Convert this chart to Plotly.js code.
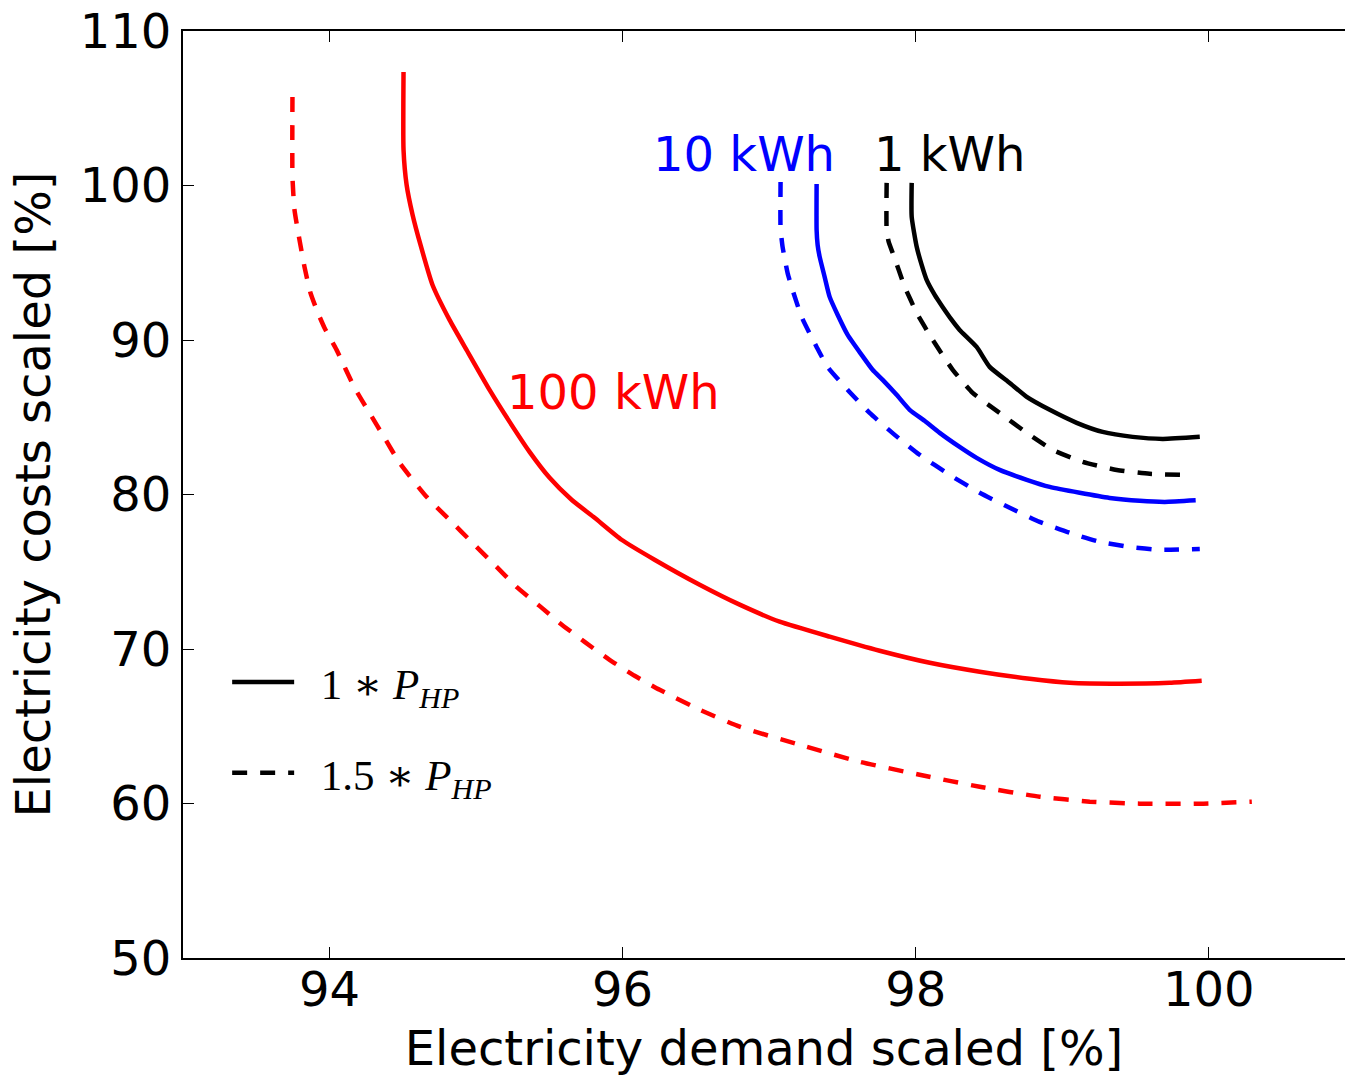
<!DOCTYPE html>
<html>
<head>
<meta charset="utf-8">
<script src="https://cdn.plot.ly/plotly-3.0.1.min.js"></script>
<style>
  html, body { margin: 0; padding: 0; background: #fff; overflow: hidden; }
  #chart { width: 1345px; height: 1078px; }
</style>
</head>
<body>
<div id="chart"></div>
<script>
// ---- data ----
// 1 kWh storage
const x_1kwh_p1   = [97.973, 97.973, 98.007, 98.041, 98.075, 98.130, 98.184, 98.246, 98.300, 98.416, 98.505, 98.642, 98.758, 98.915, 99.099, 99.276, 99.481, 99.686, 99.939];
const y_1kwh_p1   = [100.17, 97.97, 96.03, 94.86, 93.89, 92.92, 92.14, 91.30, 90.65, 89.55, 88.26, 87.22, 86.32, 85.48, 84.64, 84.05, 83.73, 83.60, 83.73];
const x_1kwh_p15  = [97.802, 97.802, 97.816, 97.843, 97.884, 97.925, 97.966, 98.007, 98.116, 98.253, 98.389, 98.573, 98.758, 98.935, 99.140, 99.372, 99.597, 99.850];
const y_1kwh_p15  = [100.17, 97.12, 96.35, 95.64, 94.54, 93.44, 92.59, 91.75, 90.01, 88.07, 86.58, 85.28, 83.99, 82.89, 82.11, 81.59, 81.34, 81.27];
// 10 kWh storage
const x_10kwh_p1  = [97.324, 97.324, 97.331, 97.345, 97.379, 97.413, 97.468, 97.536, 97.631, 97.706, 97.775, 97.870, 97.959, 98.061, 98.164, 98.300, 98.416, 98.573, 98.758, 98.915, 99.119, 99.324, 99.529, 99.700, 99.911];
const y_10kwh_p1  = [100.10, 97.12, 96.15, 95.38, 94.08, 92.79, 91.62, 90.33, 89.04, 88.07, 87.42, 86.45, 85.48, 84.77, 83.99, 83.08, 82.37, 81.59, 80.95, 80.49, 80.11, 79.78, 79.59, 79.52, 79.62];
const x_10kwh_p15 = [97.078, 97.078, 97.092, 97.126, 97.160, 97.222, 97.324, 97.399, 97.549, 97.686, 97.857, 98.027, 98.232, 98.437, 98.642, 98.846, 99.051, 99.256, 99.461, 99.666, 99.939];
const y_10kwh_p15 = [100.23, 97.25, 96.02, 94.34, 93.24, 91.49, 89.55, 88.26, 86.64, 85.28, 83.86, 82.57, 81.27, 80.11, 79.14, 78.23, 77.52, 76.94, 76.61, 76.42, 76.48];
// 100 kWh storage
const x_100kwh_p1  = [94.505, 94.505, 94.526, 94.567, 94.621, 94.703, 94.819, 94.935, 95.092, 95.229, 95.365, 95.502, 95.652, 95.809, 95.993, 96.218, 96.526, 96.799, 97.072, 97.413, 97.754, 98.096, 98.437, 98.778, 99.051, 99.392, 99.734, 99.952];
const y_100kwh_p1  = [107.35, 102.30, 100.04, 98.09, 96.15, 93.56, 91.30, 89.36, 86.77, 84.70, 82.76, 81.08, 79.66, 78.49, 77.07, 75.78, 74.16, 72.87, 71.77, 70.80, 69.89, 69.11, 68.53, 68.07, 67.81, 67.75, 67.81, 67.94];
const x_100kwh_p15 = [93.747, 93.747, 93.761, 93.795, 93.829, 93.870, 93.918, 93.966, 94.048, 94.171, 94.273, 94.375, 94.478, 94.662, 94.819, 94.976, 95.126, 95.276, 95.433, 95.570, 95.741, 95.911, 96.082, 96.253, 96.526, 96.799, 97.208, 97.618, 98.027, 98.437, 98.846, 99.188, 99.529, 99.939, 100.294];
const y_100kwh_p15 = [105.73, 100.55, 98.42, 96.48, 94.73, 93.05, 91.82, 90.78, 89.36, 86.90, 85.28, 83.67, 82.05, 79.85, 78.36, 76.87, 75.45, 74.02, 72.79, 71.69, 70.46, 69.30, 68.27, 67.36, 66.07, 64.97, 63.80, 62.70, 61.86, 61.08, 60.44, 60.12, 59.99, 59.99, 60.12];

const xTicks = [94, 96, 98, 100];
const yTicks = [50, 60, 70, 80, 90, 100, 110];
const storageLabels = ['1 kWh', '10 kWh', '100 kWh'];
const legendLabels = ['\u20021 ∗ <i>P</i><sub><i>HP</i></sub>', '\u20021.5 ∗ <i>P</i><sub><i>HP</i></sub>'];

// ---- styling ----
const LW = 4.5;
const DASH = '15px,13px';
const RED = '#ff0000', BLUE = '#0000ff', BLACK = '#000000';

function curve(x, y, color, dashed) {
  return {
    x: x, y: y, type: 'scatter', mode: 'lines', showlegend: false, hoverinfo: 'skip',
    line: { color: color, width: LW, dash: dashed ? DASH : 'solid', shape: 'spline', smoothing: 0.5 }
  };
}

const traces = [
  curve(x_100kwh_p15, y_100kwh_p15, RED, true),
  curve(x_100kwh_p1, y_100kwh_p1, RED, false),
  curve(x_10kwh_p15, y_10kwh_p15, BLUE, true),
  curve(x_10kwh_p1, y_10kwh_p1, BLUE, false),
  curve(x_1kwh_p15, y_1kwh_p15, BLACK, true),
  curve(x_1kwh_p1, y_1kwh_p1, BLACK, false),
  { x: [null], y: [null], type: 'scatter', mode: 'lines', name: legendLabels[0], legendgroup: 'g1',
    line: { color: BLACK, width: LW, dash: 'solid' } },
  { x: [null], y: [null], type: 'scatter', mode: 'lines', name: legendLabels[1], legendgroup: 'g2',
    line: { color: BLACK, width: LW, dash: DASH } }
];

const FONT = 'DejaVu Sans, sans-serif';
const layout = {
  width: 1345, height: 1078,
  margin: { l: 183, r: 0, t: 31, b: 120 },
  paper_bgcolor: '#fff', plot_bgcolor: '#fff',
  font: { family: FONT, size: 48, color: '#000' },
  showlegend: true,
  legend: {
    x: 0.038, y: 0.335, xanchor: 'left', yanchor: 'top',
    bgcolor: 'rgba(0,0,0,0)', borderwidth: 0,
    font: { family: 'Liberation Serif, DejaVu Serif, serif', size: 43, color: '#000' },
    itemwidth: 62, tracegroupgap: 32, traceorder: 'grouped'
  },
  xaxis: {
    range: [93, 100.93], tickvals: xTicks, ticktext: xTicks.map(String),
    showgrid: false, zeroline: false,
    showline: true, linecolor: '#000', linewidth: 2, mirror: 'ticks',
    ticks: 'inside', ticklen: 11, tickwidth: 1, tickcolor: '#000',
    ticklabelstandoff: -12,
    tickfont: { family: FONT, size: 48 },
    title: { text: 'Electricity demand scaled [%]', font: { family: FONT, size: 48 }, standoff: 16 }
  },
  yaxis: {
    range: [50, 110], tickvals: yTicks, ticktext: yTicks.map(String),
    showgrid: false, zeroline: false,
    showline: true, linecolor: '#000', linewidth: 2, mirror: false,
    ticks: 'inside', ticklen: 11, tickwidth: 1, tickcolor: '#000',
    tickfont: { family: FONT, size: 48 },
    title: { text: 'Electricity costs scaled [%]', font: { family: FONT, size: 48 }, standoff: 14 }
  },
  annotations: [
    { x: 98.232, y: 102.07, xref: 'x', yref: 'y', text: storageLabels[0], showarrow: false,
      xanchor: 'center', yanchor: 'middle', font: { family: FONT, size: 48, color: BLACK } },
    { x: 96.83, y: 102.07, xref: 'x', yref: 'y', text: storageLabels[1], showarrow: false,
      xanchor: 'center', yanchor: 'middle', font: { family: FONT, size: 48, color: BLUE } },
    { x: 95.939, y: 86.61, xref: 'x', yref: 'y', text: storageLabels[2], showarrow: false,
      xanchor: 'center', yanchor: 'middle', font: { family: FONT, size: 48, color: RED } }
  ]
};

Plotly.newPlot('chart', traces, layout, { displayModeBar: false, staticPlot: true });
</script>
</body>
</html>
